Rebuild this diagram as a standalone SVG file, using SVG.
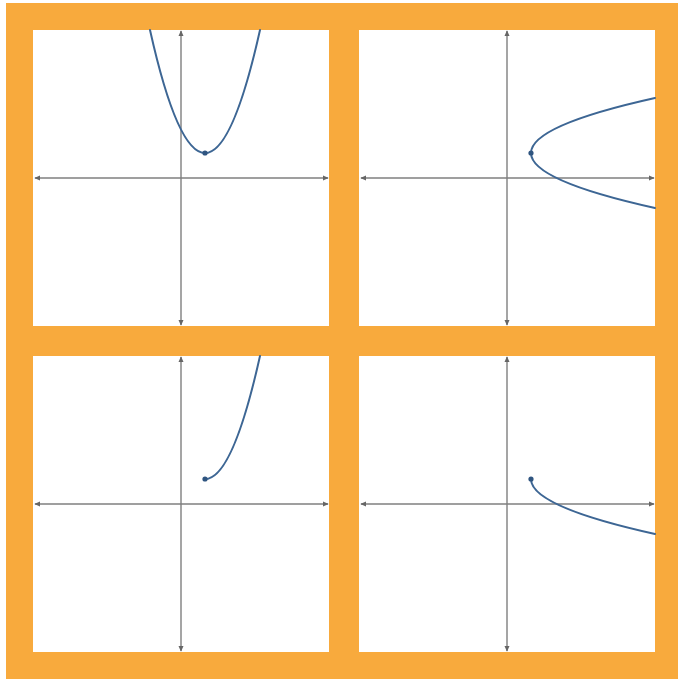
<svg xmlns="http://www.w3.org/2000/svg" width="678" height="681" viewBox="0 0 678 681">
<defs>
<style>
.axis{stroke:#7f7f7f;stroke-width:1.4;fill:none}
.curve{stroke:#3d6694;stroke-width:2;fill:none;stroke-linecap:round}
.dot{fill:#2f5580}
.panel{fill:#ffffff}
</style>
<marker id="arr" viewBox="0 0 8 8" refX="7" refY="4" markerWidth="6" markerHeight="6" orient="auto-start-reverse" markerUnits="userSpaceOnUse">
<path d="M0,0.5 L8,4 L0,7.5 Z" fill="#666666"/>
</marker>
</defs>
<rect x="0" y="0" width="678" height="681" fill="#ffffff"/>
<rect x="6" y="3" width="672" height="676" fill="#F8AA3D"/>
<g id="panel-tl">
<rect class="panel" x="33" y="30" width="296" height="296"/>
<line class="axis" x1="35" y1="178" x2="328" y2="178" marker-start="url(#arr)" marker-end="url(#arr)"/>
<line class="axis" x1="181" y1="31" x2="181" y2="325" marker-start="url(#arr)" marker-end="url(#arr)"/>
<path class="curve" d="M150,30 Q205,276 260,30"/>
<circle class="dot" cx="205" cy="153" r="2.6"/>
</g>
<g id="panel-tr">
<rect class="panel" x="359" y="30" width="296" height="296"/>
<line class="axis" x1="361" y1="178" x2="654" y2="178" marker-start="url(#arr)" marker-end="url(#arr)"/>
<line class="axis" x1="507" y1="31" x2="507" y2="325" marker-start="url(#arr)" marker-end="url(#arr)"/>
<path class="curve" d="M655,98 Q407,153 655,208"/>
<circle class="dot" cx="531" cy="153" r="2.6"/>
</g>
<g id="panel-bl">
<rect class="panel" x="33" y="356" width="296" height="296"/>
<line class="axis" x1="35" y1="504" x2="328" y2="504" marker-start="url(#arr)" marker-end="url(#arr)"/>
<line class="axis" x1="181" y1="357" x2="181" y2="651" marker-start="url(#arr)" marker-end="url(#arr)"/>
<path class="curve" d="M205,479 Q232.5,479 260,356"/>
<circle class="dot" cx="205" cy="479" r="2.6"/>
</g>
<g id="panel-br">
<rect class="panel" x="359" y="356" width="296" height="296"/>
<line class="axis" x1="361" y1="504" x2="654" y2="504" marker-start="url(#arr)" marker-end="url(#arr)"/>
<line class="axis" x1="507" y1="357" x2="507" y2="651" marker-start="url(#arr)" marker-end="url(#arr)"/>
<path class="curve" d="M531,479 Q531,506.5 655,534"/>
<circle class="dot" cx="531" cy="479" r="2.6"/>
</g>
</svg>
